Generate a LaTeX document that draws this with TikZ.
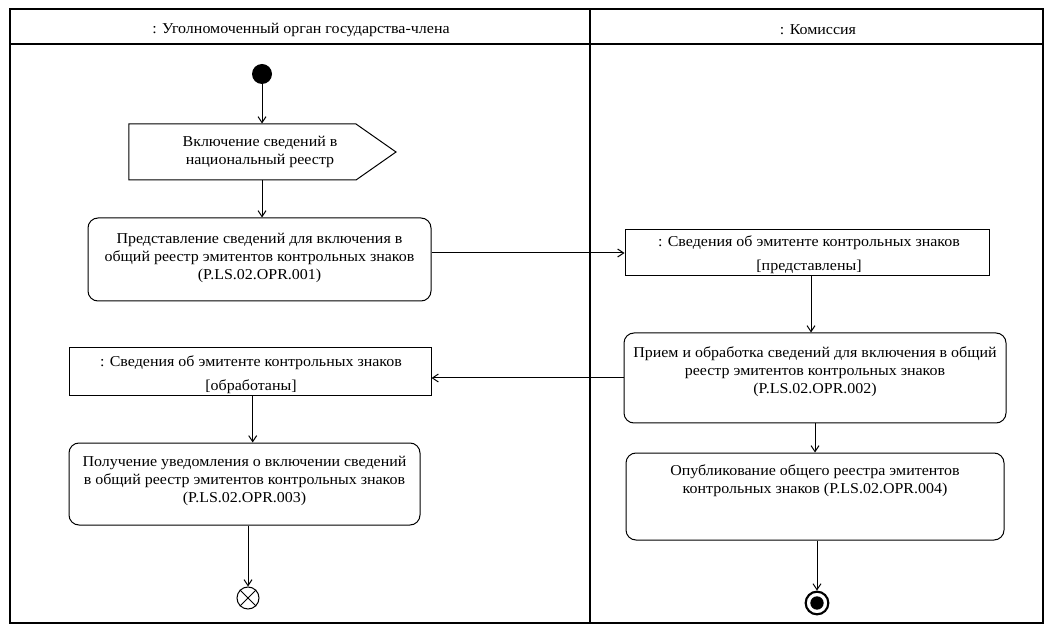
\documentclass[tikz,border=0pt]{standalone}
\usepackage{fontspec}
\setmainfont[FakeStretch=1.06]{Liberation Serif}
\usetikzlibrary{arrows.meta,shapes.symbols}
\begin{document}
\begin{tikzpicture}[x=0.75pt,y=-0.75pt,
  every node/.style={font=\fontsize{11.3}{13.5}\selectfont},
  frame/.style={draw, line width=0.8pt},
  act/.style={draw, line width=0.75pt, rounded corners=7.5pt, inner sep=0pt},
  obj/.style={draw, line width=0.75pt, inner sep=0pt},
  txt/.style={align=center, inner sep=0pt},
  flow/.style={draw, line width=0.75pt, -{Straight Barb[length=4.5pt,width=6pt]}}]
\useasboundingbox (0,0) rectangle (1053,634);
% swimlanes
\draw[frame] (10,9) rectangle (1043,623);
\draw[frame] (10,44) -- (1043,44);
\draw[frame] (590,9) -- (590,623);
\node[txt] (lane1) at (301,30) {: Уголномоченный орган государства-члена};
\node[txt] (lane2) at (818,30) {: Комиссия};
% nodes
\node[circle, fill=black, minimum size=15pt, inner sep=0pt] (init) at (262,74) {};
\node[draw, line width=0.75pt, signal, signal to=east, signal pointer angle=70,
      minimum width=200.25pt, minimum height=42pt, inner sep=0pt] (sig) at (242.5,152) {};
\node[txt] (sigt) at (260,152) {Включение сведений в\\национальный реестр};
\node[act, minimum width=257.25pt, minimum height=62.25pt] (act1) at (259.5,259.5) {};
\node[txt] (act1t) at (259.5,258) {Представление сведений для включения в\\общий реестр эмитентов контрольных знаков\\(P.LS.02.OPR.001)};
\node[obj, minimum width=273pt, minimum height=34.5pt] (obj1) at (807,253) {};
\node[txt] (obj1t) at (809,255) {: Сведения об эмитенте контрольных знаков\\[4.5pt][представлены]};
\node[act, minimum width=286.5pt, minimum height=67.5pt] (act2) at (815,378) {};
\node[txt] (act2t) at (815,372) {Прием и обработка сведений для включения в общий\\реестр эмитентов контрольных знаков\\(P.LS.02.OPR.002)};
\node[obj, minimum width=271.5pt, minimum height=36pt] (obj2) at (250,372) {};
\node[txt] (obj2t) at (251,375) {: Сведения об эмитенте контрольных знаков\\[4.5pt][обработаны]};
\node[act, minimum width=263.25pt, minimum height=61.5pt] (act3) at (244.5,484) {};
\node[txt] (act3t) at (244.5,481) {Получение уведомления о включении сведений\\в общий реестр эмитентов контрольных знаков\\(P.LS.02.OPR.003)};
\node[act, minimum width=283.5pt, minimum height=65.25pt] (act4) at (815,496.5) {};
\node[txt] (act4t) at (815,481) {Опубликование общего реестра эмитентов\\контрольных знаков (P.LS.02.OPR.004)};
\node[circle, draw, line width=0.75pt, fill=white, minimum size=16.5pt, inner sep=0pt] (ff) at (248,598) {};
\draw[line width=0.75pt] (ff.north west) -- (ff.south east) (ff.north east) -- (ff.south west);
\node[circle, draw, line width=1.6pt, fill=white, minimum size=17pt, inner sep=0pt] (fin) at (817,603) {};
\node[circle, fill=black, minimum size=10pt, inner sep=0pt] (fininner) at (fin) {};
% flows
\draw[flow] (init) -- (init |- sig.north);
\draw[flow] (init |- sig.south) -- (init |- act1.north);
\draw[flow] (act1.east |- obj1.west) -- (obj1.west);
\draw[flow] ([xshift=3pt]obj1.south) -- ([xshift=3pt]obj1.south |- act2.north);
\draw[flow] (act2.west) -- (act2.west -| obj2.east);
\draw[flow] ([xshift=2pt]obj2.south) -- ([xshift=2pt]obj2.south |- act3.north);
\draw[flow] (ff.north |- act3.south) -- (ff.north);
\draw[flow] (act2.south) -- (act4.north);
\draw[flow] (fin.north |- act4.south) -- (fin.north);
\end{tikzpicture}
\end{document}
